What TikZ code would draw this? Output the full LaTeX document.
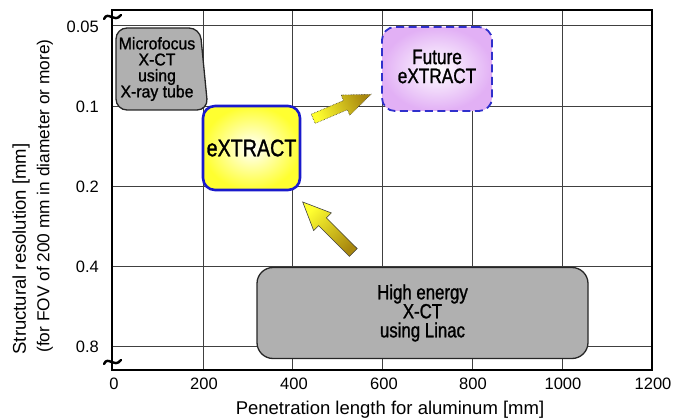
\documentclass[tikz,border=0pt]{standalone}
\usepackage{fontspec}
\setmainfont{Liberation Sans}
\newfontfamily\boxfont[FakeStretch=0.82, FakeBold=1.2]{Liberation Sans}
\newfontfamily\microfont[FakeStretch=0.93, FakeBold=1.2]{Liberation Sans}
\usetikzlibrary{calc}
\definecolor{gridc}{HTML}{404040}
\definecolor{boxgray}{HTML}{B0B0B0}
\definecolor{extblue}{HTML}{1A1ACC}
\definecolor{futblue}{HTML}{3030CC}
\definecolor{futpurple}{HTML}{E2B0F5}
\definecolor{yel}{HTML}{FFFF30}
\definecolor{goldd}{HTML}{A8870E}
\tikzset{
  gridline/.style={draw=gridc, line width=0.9pt},
  frameline/.style={draw=black, line width=1.8pt},
  ticklab/.style={font=\fontsize{16.5}{18}\selectfont, inner sep=0pt},
  axtitle/.style={font=\fontsize{18.5}{20}\selectfont, inner sep=0pt},
  graybox/.style={draw=black!85, line width=1.3pt, fill=boxgray},
  breakmark/.style={draw=black, line width=2.4pt, line cap=round},
  boxtext/.style={align=center, inner sep=0pt},
  arrowshape/.style={line width=0.6pt}
}
\begin{document}
\begin{tikzpicture}[x=1pt,y=-1pt]
\useasboundingbox (0,0) rectangle (686,420);

% grid
\foreach \x in {203,292,382,472,562} \draw[gridline] (\x,10) -- (\x,370);
\foreach \y in {25,106,186,266,346} \draw[gridline] (112,\y) -- (652,\y);
\draw[frameline] (112,10) rectangle (652,370);

% y tick labels
\node[ticklab, anchor=east] (y05) at (99,27) {0.05};
\node[ticklab, anchor=east] (y1) at (99,107) {0.1};
\node[ticklab, anchor=east] (y2) at (99,187) {0.2};
\node[ticklab, anchor=east] (y4) at (99,267) {0.4};
\node[ticklab, anchor=east] (y8) at (99,347) {0.8};

% x tick labels
\node[ticklab] (x0) at (114,384) {0};
\node[ticklab] (x200) at (204,384) {200};
\node[ticklab] (x400) at (294,384) {400};
\node[ticklab] (x600) at (384,384) {600};
\node[ticklab] (x800) at (473,384) {800};
\node[ticklab] (x1000) at (563,384) {1000};
\node[ticklab] (x1200) at (653,384) {1200};

% axis titles
\node[axtitle] (xt) at (390,410) {Penetration length for aluminum [mm]};
\node[axtitle, rotate=90] (yt1) at (21,249) {Structural resolution [mm]};
\node[font=\fontsize{17.3}{19}\selectfont, inner sep=0pt, rotate=90] (yt2) at (45,196) {(for FOV of 200 mm in diameter or more)};

% break marks
\draw[breakmark] (104,19) .. controls (108,10) and (114,24) .. (121,15);
\draw[breakmark] (104,364) .. controls (108,355) and (114,369) .. (121,360);

% Microfocus box
\draw[graybox, rounded corners=11pt] (116,28) -- (200,28) -- (208,110) -- (116,110) -- cycle;
\node[boxtext, font=\microfont\fontsize{17}{16}\selectfont] (micro) at (157,69) {Microfocus\\X-CT\\using\\X-ray tube};

% eXTRACT
\node[draw=extblue, line width=2.6pt, rounded corners=12pt, inner color=white, outer color=yel,
      minimum width=97pt, minimum height=84pt, font=\boxfont\fontsize{24}{24}\selectfont] (ext) at (251.5,148) {eXTRACT};

% Future eXTRACT
\node[draw=futblue, line width=1.8pt, dash pattern=on 8pt off 4.5pt, rounded corners=13pt,
      inner color=white, outer color=futpurple, minimum width=110pt, minimum height=84pt] (fut) at (437,69) {};
\node[boxtext, font=\boxfont\fontsize{21}{19}\selectfont] (futtext) at (437,66.5) {Future\\eXTRACT};

% High energy
\node[graybox, rounded corners=16pt, minimum width=331pt, minimum height=91pt,
      boxtext, font=\boxfont\fontsize{20.5}{19}\selectfont] (high) at (422.5,313) {High energy\\X-CT\\using Linac};

% arrow 1 (dotted outline)
\coordinate (a1t) at (313.2,118.8);
\coordinate (a1h) at (371,94.3);
\coordinate (a1b) at ($(a1t)!35pt!(a1h)$);
\shade[top color=goldd, bottom color=yel, shading angle=-67, draw=black!70!olive, arrowshape, densely dotted]
  ($(a1t)!5pt!90:(a1h)$) -- ($(a1b)!5pt!90:(a1h)$) -- ($(a1b)!11pt!90:(a1h)$) -- (a1h)
  -- ($(a1b)!11pt!-90:(a1h)$) -- ($(a1b)!5pt!-90:(a1h)$) -- ($(a1t)!5pt!-90:(a1h)$) -- cycle;

% arrow 2
\coordinate (a2t) at (353.3,252.5);
\coordinate (a2h) at (302.7,202);
\coordinate (a2b) at ($(a2t)!43.5pt!(a2h)$);
\shade[top color=yel, bottom color=goldd, shading angle=45, draw=black!75, arrowshape]
  ($(a2t)!5.5pt!90:(a2h)$) -- ($(a2b)!5.5pt!90:(a2h)$) -- ($(a2b)!12.5pt!90:(a2h)$) -- (a2h)
  -- ($(a2b)!12.5pt!-90:(a2h)$) -- ($(a2b)!5.5pt!-90:(a2h)$) -- ($(a2t)!5.5pt!-90:(a2h)$) -- cycle;
\end{tikzpicture}
\end{document}
